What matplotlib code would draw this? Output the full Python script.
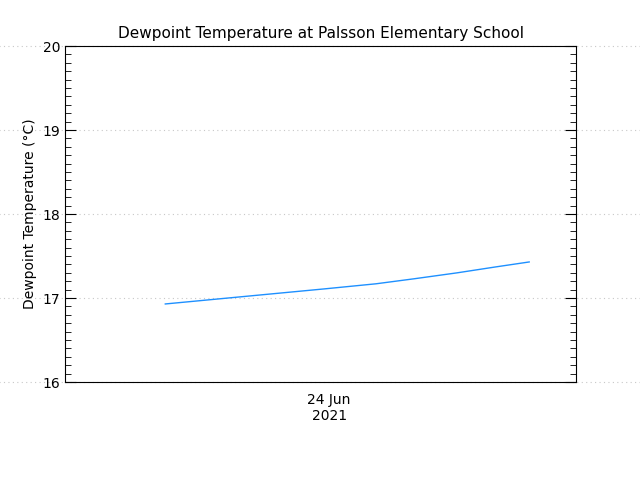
import matplotlib
matplotlib.use("Agg")
import matplotlib.pyplot as plt
from matplotlib.ticker import MultipleLocator, FixedLocator

# hours relative to 24 Jun 2021 00:00
hours = [-7.7, -5.2, -2.7, -0.2, 2.2, 4.0, 6.0, 7.8, 9.4]
dewpoint = [16.93, 16.99, 17.05, 17.11, 17.17, 17.23, 17.30, 17.37, 17.43]
yticks = [16, 17, 18, 19, 20]

fig = plt.figure(figsize=(6.4, 4.8), dpi=100)
ax = fig.add_axes([0.102, 0.204, 0.798, 0.700])
ax.plot(hours, dewpoint, color="#1e90ff", lw=1)
ax.set_xlim(-12.4, 11.6)
ax.set_ylim(16, 20)

for y in yticks:
    ax.axhline(y, xmin=-0.13, xmax=1.13, color="#c8c8c8", ls=(0, (1, 3)), lw=0.8,
               clip_on=False, zorder=0)

ax.yaxis.set_major_locator(FixedLocator(yticks))
ax.yaxis.set_minor_locator(MultipleLocator(0.1))
ax.xaxis.set_major_locator(FixedLocator([0]))
ax.set_xticklabels(["24 Jun\n2021"])
ax.tick_params(which="both", direction="in", right=True, labelsize=10)
ax.tick_params(axis="x", length=0, pad=8)
ax.tick_params(axis="y", which="major", length=8)
ax.tick_params(axis="y", which="minor", length=4)
ax.set_ylabel("Dewpoint Temperature (°C)", fontsize=10)
ax.set_title("Dewpoint Temperature at Palsson Elementary School", fontsize=11)

fig.savefig("out.png", dpi=100)
